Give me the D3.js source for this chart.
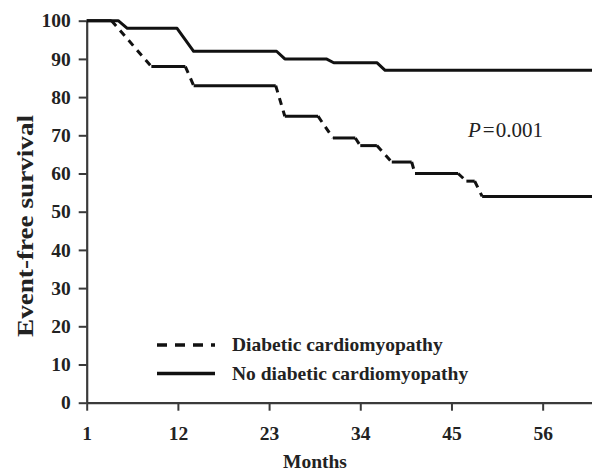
<!DOCTYPE html>
<html>
<head>
<meta charset="utf-8">
<script src="https://cdn.jsdelivr.net/npm/d3@7"></script>
<style>
  html, body { margin: 0; padding: 0; background: #fff; }
  svg { display: block; }
  text { font-family: "Liberation Serif", "Times New Roman", serif; fill: #222; }
</style>
</head>
<body>
<svg id="chart" width="592" height="473"></svg>
<script>
// ---- Data ----
const xTicks = [1, 12, 23, 34, 45, 56];
const yTicks = [0, 10, 20, 30, 40, 50, 60, 70, 80, 90, 100];

// No diabetic cardiomyopathy (solid) – polyline vertices [month, survival %]
const noDiabMonths   = [1, 4.8, 5.9, 11.9, 13.9, 23.9, 24.9, 29.9, 30.8, 36.0, 37.0, 62];
const noDiabSurvival = [100, 100, 98, 98, 92, 92, 90, 90, 89, 89, 87, 87];

// Diabetic cardiomyopathy (dashed)
const diabMonths   = [1, 4.0, 8.8, 12.9, 13.9, 23.8, 24.9, 28.9, 30.7, 33.4, 34.0, 36.0, 37.8, 40.2, 40.6, 45.8, 46.8, 47.8, 48.7, 62];
const diabSurvival = [100, 100, 88, 88, 83, 83, 75, 75, 69.3, 69.3, 67.3, 67.3, 63, 63, 60, 60, 58, 58, 54, 54];

const legendLabels = ["Diabetic cardiomyopathy", "No diabetic cardiomyopathy"];
const pValueLabel = "0.001";

// ---- Layout ----
const svg = d3.select("#chart");
const x = d3.scaleLinear().domain([1, 62]).range([86.7, 592.4]);
const y = d3.scaleLinear().domain([0, 100]).range([402.7, 20.7]);

const axisColor = "#3a3a3a";

// Y axis
const yAxis = svg.append("g")
  .attr("transform", `translate(${x(1)},0)`)
  .call(d3.axisLeft(y).tickValues(yTicks).tickSize(8).tickSizeOuter(0).tickPadding(8));
// X axis
const xAxis = svg.append("g")
  .attr("transform", `translate(0,${y(0)})`)
  .call(d3.axisBottom(x).tickValues(xTicks).tickSize(8).tickSizeOuter(0).tickPadding(15));

[yAxis, xAxis].forEach(g => {
  g.select(".domain").attr("stroke", axisColor).attr("stroke-width", 2.2);
  g.selectAll(".tick line").attr("stroke", axisColor).attr("stroke-width", 2);
  g.selectAll(".tick text")
    .attr("fill", "#222")
    .style("font-family", '"Liberation Serif", serif')
    .style("font-weight", "bold")
    .style("font-size", "19.5px");
});

// Axis titles
svg.append("text")
  .attr("transform", `translate(33,226) rotate(-90)`)
  .attr("text-anchor", "middle")
  .attr("textLength", 222)
  .attr("lengthAdjust", "spacingAndGlyphs")
  .style("font-weight", "bold")
  .style("font-size", "23px")
  .text("Event-free survival");

svg.append("text")
  .attr("x", 315).attr("y", 468)
  .attr("text-anchor", "middle")
  .style("font-weight", "bold")
  .style("font-size", "19.5px")
  .text("Months");

// ---- Curves ----
const line = d3.line().x(d => x(d[0])).y(d => y(d[1]));
const solidPts = noDiabMonths.map((m, i) => [m, noDiabSurvival[i]]);
const dashPts  = diabMonths.map((m, i) => [m, diabSurvival[i]]);

svg.append("path")
  .datum(solidPts)
  .attr("d", line)
  .attr("fill", "none")
  .attr("stroke", "#111")
  .attr("stroke-width", 3)
  .attr("stroke-linejoin", "round");

// dashed curve: flat parts drawn solid, drops drawn dashed
for (let i = 0; i < dashPts.length - 1; i++) {
  const a = dashPts[i], b = dashPts[i + 1];
  const flat = a[1] === b[1];
  svg.append("path")
    .datum([a, b])
    .attr("d", line)
    .attr("fill", "none")
    .attr("stroke", "#111")
    .attr("stroke-width", 3)
    .attr("stroke-dasharray", flat ? null : "7,6");
}

// ---- Legend ----
const legend = svg.append("g");
legend.append("line")
  .attr("x1", 157).attr("x2", 215).attr("y1", 345).attr("y2", 345)
  .attr("stroke", "#111").attr("stroke-width", 3.5).attr("stroke-dasharray", "10,8");
legend.append("text")
  .attr("x", 232).attr("y", 351)
  .style("font-weight", "bold").style("font-size", "19.5px")
  .text(legendLabels[0]);
legend.append("line")
  .attr("x1", 157).attr("x2", 215).attr("y1", 373.5).attr("y2", 373.5)
  .attr("stroke", "#111").attr("stroke-width", 3.5);
legend.append("text")
  .attr("x", 232).attr("y", 379.5)
  .style("font-weight", "bold").style("font-size", "19.5px")
  .text(legendLabels[1]);

// ---- P value ----
const pText = svg.append("text")
  .attr("x", 468).attr("y", 137)
  .style("font-size", "21px");
pText.append("tspan").style("font-style", "italic").text("P");
pText.append("tspan").attr("dx", 2).text("=");
pText.append("tspan").attr("dx", 1).text(pValueLabel);
</script>
</body>
</html>
